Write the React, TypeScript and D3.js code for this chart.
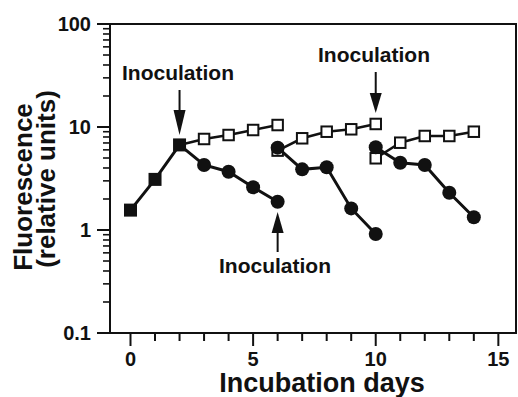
import React from 'react';
import * as d3 from 'd3';

// ---- data ----
const startDays = [0, 1, 2];
const startValues = [1.56, 3.1, 6.7];

const run1Days = [2, 3, 4, 5, 6];
const run1Open = [6.7, 7.65, 8.36, 9.35, 10.45];
const run1Filled = [6.7, 4.28, 3.68, 2.6, 1.88];

const run2Days = [6, 7, 8, 9, 10];
const run2Open = [5.9, 7.77, 9.0, 9.5, 10.7];
const run2Filled = [6.3, 3.88, 4.06, 1.62, 0.915];

const run3Days = [10, 11, 12, 13, 14];
const run3Open = [4.97, 7.04, 8.18, 8.18, 9.0];
const run3Filled = [6.35, 4.5, 4.28, 2.3, 1.33];

const yMajorTicks = [0.1, 1, 10, 100];
const yTickLabels = ['0.1', '1', '10', '100'];
const xMajorTicks = [0, 5, 10, 15];
const xTickLabels = ['0', '5', '10', '15'];

const inoculationDays = [2, 10, 6];

const FONT = '"Liberation Sans", Arial, Helvetica, sans-serif';

export default function App() {
  const W = 518;
  const H = 397;
  const left = 110;
  const right = 516;
  const top = 24;
  const bottom = 333;

  const x = d3.scaleLinear().domain([-0.836, 15.72]).range([left, right]);
  const y = d3.scaleLog().domain([0.1, 100]).range([bottom, top]);

  const line = d3
    .line<[number, number]>()
    .x((d) => x(d[0]))
    .y((d) => y(d[1]));

  const zip = (a: number[], b: number[]) => a.map((d, i) => [d, b[i]] as [number, number]);

  const runs = [
    { days: run1Days, open: run1Open, filled: run1Filled, skipFirst: true },
    { days: run2Days, open: run2Open, filled: run2Filled, skipFirst: false },
    { days: run3Days, open: run3Open, filled: run3Filled, skipFirst: false },
  ];

  const yMinor: number[] = [];
  [0.1, 1, 10].forEach((dec) => {
    for (let k = 2; k <= 9; k++) yMinor.push(dec * k);
  });
  const xMinor = d3.range(0, 16);

  const sq = 12.5;
  const r = 7;

  const arrowHead = (xc: number, tip: number, base: number, w: number) =>
    `M${xc},${tip} L${xc - w / 2},${base} L${xc + w / 2},${base} Z`;

  const a1x = x(inoculationDays[0]);
  const a2x = x(inoculationDays[1]);
  const a3x = x(inoculationDays[2]);

  return (
    <div style={{ position: 'fixed', left: 0, top: 0 }}>
      <svg width={W} height={H} style={{ display: 'block', background: '#fff' }}>
        {/* frame */}
        <line x1={97} x2={right + 1} y1={top} y2={top} stroke="#111" strokeWidth={2} />
        <line x1={right} x2={right} y1={top} y2={bottom} stroke="#111" strokeWidth={2} />
        <line x1={left} x2={left} y1={top} y2={bottom} stroke="#111" strokeWidth={2} />
        <line x1={97} x2={right + 1} y1={bottom} y2={bottom} stroke="#111" strokeWidth={2} />

        {/* y ticks */}
        {yMajorTicks.map((t, i) => (
          <g key={'ym' + i}>
            <line x1={97} x2={left} y1={y(t)} y2={y(t)} stroke="#111" strokeWidth={2} />
            <text
              x={91}
              y={y(t) + 7}
              textAnchor="end"
              fontFamily={FONT}
              fontWeight="bold"
              fontSize={20}
              fill="#111"
            >
              {yTickLabels[i]}
            </text>
          </g>
        ))}
        {yMinor.map((t, i) => (
          <line key={'yn' + i} x1={103} x2={left} y1={y(t)} y2={y(t)} stroke="#111" strokeWidth={1.6} />
        ))}

        {/* x ticks */}
        {xMinor.map((t) => (
          <line
            key={'xn' + t}
            x1={x(t)}
            x2={x(t)}
            y1={bottom}
            y2={xMajorTicks.includes(t) ? bottom + 13 : bottom + 8}
            stroke="#111"
            strokeWidth={2}
          />
        ))}
        {xMajorTicks.map((t, i) => (
          <text
            key={'xl' + i}
            x={x(t)}
            y={366}
            textAnchor="middle"
            fontFamily={FONT}
            fontWeight="bold"
            fontSize={20}
            fill="#111"
          >
            {xTickLabels[i]}
          </text>
        ))}

        {/* axis titles */}
        <text
          x={322}
          y={392}
          textAnchor="middle"
          fontFamily={FONT}
          fontWeight="bold"
          fontSize={27}
          fill="#111"
        >
          Incubation days
        </text>
        <text
          transform={`translate(32,187) rotate(-90)`}
          textAnchor="middle"
          fontFamily={FONT}
          fontWeight="bold"
          fontSize={26}
          fill="#111"
        >
          Fluorescence
        </text>
        <text
          transform={`translate(55,179) rotate(-90)`}
          textAnchor="middle"
          fontFamily={FONT}
          fontWeight="bold"
          fontSize={26}
          fill="#111"
        >
          (relative units)
        </text>

        {/* lines */}
        <path d={line(zip(startDays, startValues)) || ''} fill="none" stroke="#111" strokeWidth={3} />
        {runs.map((run, i) => (
          <g key={'rl' + i}>
            <path d={line(zip(run.days, run.open)) || ''} fill="none" stroke="#111" strokeWidth={2.5} />
            <path d={line(zip(run.days, run.filled)) || ''} fill="none" stroke="#111" strokeWidth={3} />
          </g>
        ))}

        {/* markers */}
        {startDays.map((d, i) => (
          <rect
            key={'fs' + i}
            x={x(d) - 6.5}
            y={y(startValues[i]) - 6.5}
            width={13}
            height={13}
            fill="#111"
          />
        ))}
        {runs.map((run, i) => (
          <g key={'rm' + i}>
            {run.days.map((d, j) =>
              run.skipFirst && j === 0 ? null : (
                <rect
                  key={'os' + j}
                  x={x(d) - sq / 2 + 1}
                  y={y(run.open[j]) - sq / 2 + 1}
                  width={sq - 2}
                  height={sq - 2}
                  fill="#fff"
                  stroke="#111"
                  strokeWidth={2}
                />
              )
            )}
            {run.days.map((d, j) =>
              run.skipFirst && j === 0 ? null : (
                <circle key={'fc' + j} cx={x(d)} cy={y(run.filled[j])} r={r} fill="#111" />
              )
            )}
          </g>
        ))}

        {/* annotations */}
        <text x={178} y={80} textAnchor="middle" fontFamily={FONT} fontWeight="bold" fontSize={21} fill="#111">
          Inoculation
        </text>
        <line x1={a1x} x2={a1x} y1={90} y2={112} stroke="#111" strokeWidth={2} />
        <path d={arrowHead(a1x, 135, 110, 12)} fill="#111" />

        <text x={374} y={62} textAnchor="middle" fontFamily={FONT} fontWeight="bold" fontSize={21} fill="#111">
          Inoculation
        </text>
        <line x1={a2x} x2={a2x} y1={72} y2={95} stroke="#111" strokeWidth={2} />
        <path d={arrowHead(a2x, 113, 93, 12)} fill="#111" />

        <text x={275} y={273} textAnchor="middle" fontFamily={FONT} fontWeight="bold" fontSize={21} fill="#111">
          Inoculation
        </text>
        <line x1={a3x} x2={a3x} y1={231} y2={252} stroke="#111" strokeWidth={2} />
        <path d={arrowHead(a3x, 212, 233, 12)} fill="#111" />
      </svg>
    </div>
  );
}
